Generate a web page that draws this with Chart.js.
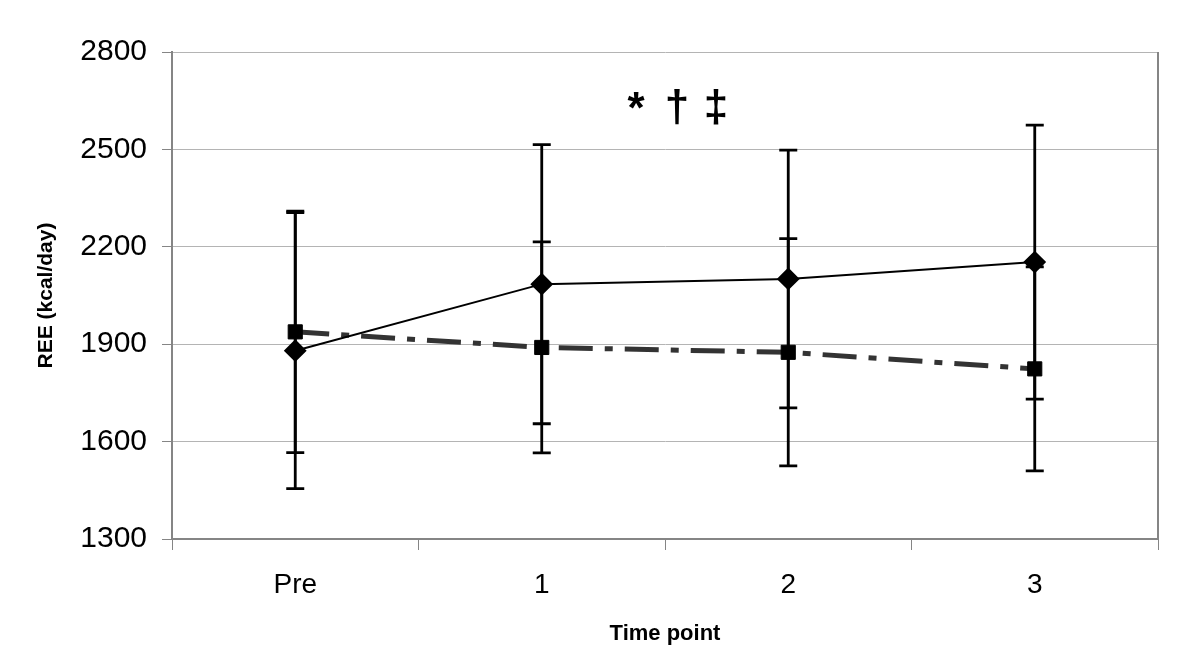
<!DOCTYPE html>
<html>
<head>
<meta charset="utf-8">
<script src="https://cdn.jsdelivr.net/npm/chart.js@4/dist/chart.umd.min.js"></script>
<style>
  html, body { margin: 0; padding: 0; background: #fff; }
  #wrap { width: 1200px; height: 665px; }
</style>
</head>
<body>
<div id="wrap"><canvas id="ree-chart"></canvas></div>
<script>
// --- Data ---
const timePoints = ['Pre', '1', '2', '3'];
const groupA = [1880, 2085, 2101, 2153];      // solid line, diamonds
const groupAErr = [425, 430, 397, 422];
const groupB = [1938, 1890, 1875, 1824];      // dash-dot line, squares
const groupBErr = [372, 325, 350, 314];
const yTicks = [1300, 1600, 1900, 2200, 2500, 2800];
const sigMarks = ['*', '\u2020', '\u2021'];

const FONT = '"Liberation Sans", Arial, sans-serif';
const FRAME = '#858585';

// error bars drawn behind the markers
const errorBars = {
    id: 'errorBars',
    beforeDatasetsDraw(chart) {
        const { ctx, scales: { x, y } } = chart;
        const sets = [[groupA, groupAErr], [groupB, groupBErr]];
        ctx.save();
        ctx.strokeStyle = '#000';
        ctx.lineWidth = 2.8;
        sets.forEach(([vals, errs]) => {
            vals.forEach((v, i) => {
                const px = x.getPixelForValue(i);
                const top = y.getPixelForValue(v + errs[i]);
                const bot = y.getPixelForValue(v - errs[i]);
                ctx.beginPath();
                ctx.moveTo(px, top); ctx.lineTo(px, bot);
                ctx.moveTo(px - 9, top); ctx.lineTo(px + 9, top);
                ctx.moveTo(px - 9, bot); ctx.lineTo(px + 9, bot);
                ctx.stroke();
            });
        });
        ctx.restore();
    }
};

// plot frame (right side) and significance marks
const frameAndMarks = {
    id: 'frameAndMarks',
    afterDraw(chart) {
        const { ctx, chartArea: a, scales: { x, y } } = chart;
        ctx.save();
        ctx.strokeStyle = FRAME;
        ctx.lineWidth = 2;
        ctx.beginPath();
        ctx.moveTo(a.right, a.top);
        ctx.lineTo(a.right, a.bottom);
        ctx.stroke();

        const mid = (x.getPixelForValue(1) + x.getPixelForValue(2)) / 2;
        const py = y.getPixelForValue(2625);
        ctx.fillStyle = '#000';
        ctx.font = 'bold 44px ' + FONT;
        ctx.textAlign = 'center';
        ctx.textBaseline = 'middle';
        [-29, 12, 51].forEach((dx, i) => ctx.fillText(sigMarks[i], mid + dx, py + (i === 0 ? 2 : 0)));
        ctx.restore();
    }
};

new Chart(document.getElementById('ree-chart'), {
    type: 'line',
    data: {
        labels: timePoints,
        datasets: [
            {
                label: 'A',
                data: groupA,
                borderColor: '#000',
                backgroundColor: '#000',
                borderWidth: 2,
                pointStyle: 'rectRot',
                pointRadius: 10,
                pointHoverRadius: 10,
                tension: 0
            },
            {
                label: 'B',
                data: groupB,
                borderColor: '#333',
                backgroundColor: '#000',
                borderWidth: 5,
                borderDash: [34, 12, 8, 12],
                pointStyle: 'rect',
                pointRadius: 10,
                pointHoverRadius: 10,
                pointBorderColor: '#000',
                pointBorderWidth: 1,
                tension: 0
            }
        ]
    },
    options: {
        responsive: true,
        maintainAspectRatio: false,
        animation: false,
        layout: { padding: { top: 52, right: 42, left: 30, bottom: 14 } },
        plugins: { legend: { display: false }, tooltip: { enabled: false } },
        scales: {
            x: {
                offset: true,
                grid: { offset: true, drawOnChartArea: false, drawTicks: true, tickLength: 11, color: FRAME, lineWidth: 1 },
                border: { display: true, color: FRAME, width: 2 },
                ticks: { color: '#000', font: { family: FONT, size: 28 }, padding: 18 },
                title: { display: true, text: 'Time point', color: '#000', font: { family: FONT, size: 22, weight: 'bold' }, padding: { top: 0 } },
                afterFit(s) { s.height = 112; }
            },
            y: {
                min: yTicks[0],
                max: yTicks[yTicks.length - 1],
                afterBuildTicks(s) { s.ticks = yTicks.map(v => ({ value: v })); },
                grid: { color: '#b4b4b4', lineWidth: 1, tickLength: 10, tickColor: FRAME },
                border: { display: true, color: FRAME, width: 2 },
                ticks: { color: '#000', font: { family: FONT, size: 30 }, padding: 15, callback: v => String(v) },
                title: { display: true, text: 'REE (kcal/day)', color: '#000', font: { family: FONT, size: 21, weight: 'bold' }, padding: { bottom: 0 } },
                afterFit(s) { s.width = 142; }
            }
        }
    },
    plugins: [errorBars, frameAndMarks]
});
</script>
</body>
</html>
